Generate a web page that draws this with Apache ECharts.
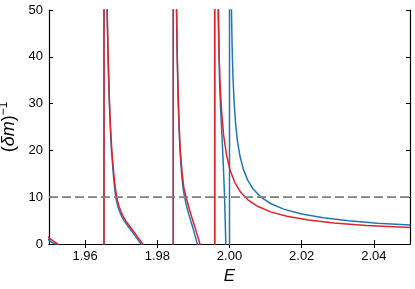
<!DOCTYPE html>
<html>
<head>
<meta charset="utf-8">
<script src="https://cdn.jsdelivr.net/npm/echarts@6/dist/echarts.min.js"></script>
<style>html,body{margin:0;padding:0;background:#fff}#c{width:415px;height:289px}</style>
</head>
<body>
<div id="c"></div>
<script>
// ---- data ----
const xTicks = [1.96, 1.98, 2.00, 2.02, 2.04];
const yTicks = [0, 10, 20, 30, 40, 50];
const threshold = 10;
const thresholdE = [1.95, 2.05];

// red curve (E, (δm)^-1); pole jumps appear as vertical pairs
const redE = [1.9490, 1.9500, 1.9512, 1.9524, 1.9540,
  1.96524, 1.96524,
  1.96612, 1.96640, 1.96673, 1.96704, 1.96740, 1.96795, 1.96837, 1.96878, 1.96906, 1.96942, 1.96989, 1.97047,
  1.97122, 1.97216, 1.97313, 1.97410, 1.97504, 1.97598, 1.97781,
  1.98443, 1.98443,
  1.98535, 1.98554, 1.98582, 1.98607, 1.98637, 1.98690, 1.98737, 1.98801, 1.98867, 1.98945, 1.99025, 1.99105, 1.99183, 1.99258,
  1.99590, 1.99590,
  1.99675, 1.99690, 1.99710, 1.99740, 1.99780, 1.99840, 1.99920, 2.00020, 2.00150, 2.00310, 2.00510, 2.00790,
  2.01140, 2.01590, 2.02190, 2.02890, 2.03790, 2.05000];
const redM = [2.1, 1.3, 0.6, 0, -1.0,
  -100, 100,
  50, 40, 30.8, 25, 20, 15, 12, 10, 9, 8, 7, 6,
  5, 4, 3, 2, 1, 0, -2,
  -100, 100,
  50, 40, 30.8, 25, 20, 15, 12, 10, 8, 6, 4, 2, 0, -2,
  -100, 100,
  53.6, 47.0, 40.6, 34.1, 28.4, 23.1, 18.9, 15.7, 13.1, 11.05, 9.44, 8.0,
  6.86, 5.91, 5.11, 4.49, 3.97, 3.50];

// blue curve
const blueE = [1.9490, 1.9500, 1.9509, 1.9518, 1.9535,
  1.96524, 1.96524,
  1.96607, 1.96634, 1.96668, 1.96698, 1.96731, 1.96781, 1.96817, 1.96850, 1.96875, 1.96909, 1.96953, 1.97008,
  1.97078, 1.97169, 1.97266, 1.97363, 1.97457, 1.97548, 1.97731,
  1.98443, 1.98443,
  1.98532, 1.98551, 1.98576, 1.98601, 1.98629, 1.98673, 1.98712, 1.98756, 1.98814, 1.98886, 1.98964, 1.99039, 1.99108, 1.99177,
  1.99590, 1.99590,
  1.99690, 1.99698, 1.99709, 1.99726, 1.99759, 1.99798, 1.99828, 1.99859, 1.99881, 1.99898, 1.99920, 1.99945,
  2.00000, 2.00000,
  2.00045, 2.00055, 2.00065, 2.00080, 2.00100, 2.00130, 2.00170, 2.00220, 2.00290, 2.00380, 2.00500, 2.00650,
  2.00870, 2.01150, 2.01500, 2.02000, 2.02600, 2.03300, 2.04100, 2.05000];
const blueM = [1.6, 0.8, 0.3, 0, -1.0,
  -100, 100,
  50, 40, 30.8, 25, 20, 15, 12, 10, 9, 8, 7, 6,
  5, 4, 3, 2, 1, 0, -2,
  -100, 100,
  50, 40, 30.8, 25, 20, 15, 12, 10, 8, 6, 4, 2, 0, -2,
  -100, 100,
  55, 50, 42, 34, 28, 22, 17, 11, 5, 0, -8, -20,
  -100, 100,
  56.2, 49.9, 45.2, 40.0, 35.0, 30.0, 25.6, 22.0, 18.8, 16.05, 13.7, 11.8,
  10.0, 8.6, 7.45, 6.4, 5.6, 4.95, 4.45, 4.05];

const pairs = (xs, ys) => xs.map((x, i) => [x, ys[i]]);

const FONT = 'Liberation Sans';
const common = { fontFamily: FONT, color: '#000' };

const chart = echarts.init(document.getElementById('c'), null, { renderer: 'canvas' });
const xBase = {
  type: 'value', min: 1.95, max: 2.05,
  axisLine: { lineStyle: { color: '#000', width: 1.2 } },
  splitLine: { show: false },
  axisTick: { inside: true, length: 4, lineStyle: { color: '#000', width: 1 }, customValues: xTicks }
};
const yBase = {
  type: 'value', min: 0, max: 50, interval: 10,
  axisLine: { show: true, lineStyle: { color: '#000', width: 1.2 } },
  splitLine: { show: false },
  axisTick: { inside: true, length: 4, lineStyle: { color: '#000', width: 1 } }
};
const curve = (data, color, z) => ({
  type: 'line', data, showSymbol: false, clip: true,
  lineStyle: { color, width: 1.5, join: 'round' }, itemStyle: { color }, z
});
chart.setOption({
  animation: false,
  backgroundColor: '#fff',
  grid: { left: 49, right: 5, top: 10, bottom: 45, containLabel: false, outerBoundsMode: 'none' },
  xAxis: [
    Object.assign({}, xBase, {
      position: 'bottom',
      name: 'E', nameLocation: 'middle', nameGap: 21,
      nameTextStyle: { fontFamily: FONT, fontStyle: 'italic', fontSize: 17, color: '#000' },
      axisLabel: Object.assign({ fontSize: 13, margin: 6, customValues: xTicks,
        formatter: v => v.toFixed(2) }, common)
    }),
    Object.assign({}, xBase, { position: 'top', axisLabel: { show: false } })
  ],
  yAxis: [
    Object.assign({}, yBase, {
      position: 'left',
      name: '{p|(}{i|δm}{p|)}{s|−1}', nameLocation: 'middle', nameGap: 23, nameRotate: 90,
      nameTextStyle: {
        color: '#000',
        rich: {
          p: { fontFamily: FONT, fontSize: 18, color: '#000', lineHeight: 21 },
          i: { fontFamily: FONT, fontStyle: 'italic', fontSize: 18, color: '#000', lineHeight: 21 },
          s: { fontFamily: FONT, fontSize: 12, color: '#000', verticalAlign: 'top', lineHeight: 21 }
        }
      },
      axisLabel: Object.assign({ fontSize: 13, margin: 6 }, common)
    }),
    Object.assign({}, yBase, { position: 'right', axisLabel: { show: false } })
  ],
  series: [
    curve(pairs(blueE, blueM), '#1f77b4', 2),
    curve(pairs(redE, redM), '#e0242c', 3),
    { type: 'line', data: thresholdE.map(e => [e, threshold]), showSymbol: false, clip: true,
      lineStyle: { color: '#7f7f7f', width: 1.8, type: [9, 4] }, z: 4 }
  ]
});
</script>
</body>
</html>
